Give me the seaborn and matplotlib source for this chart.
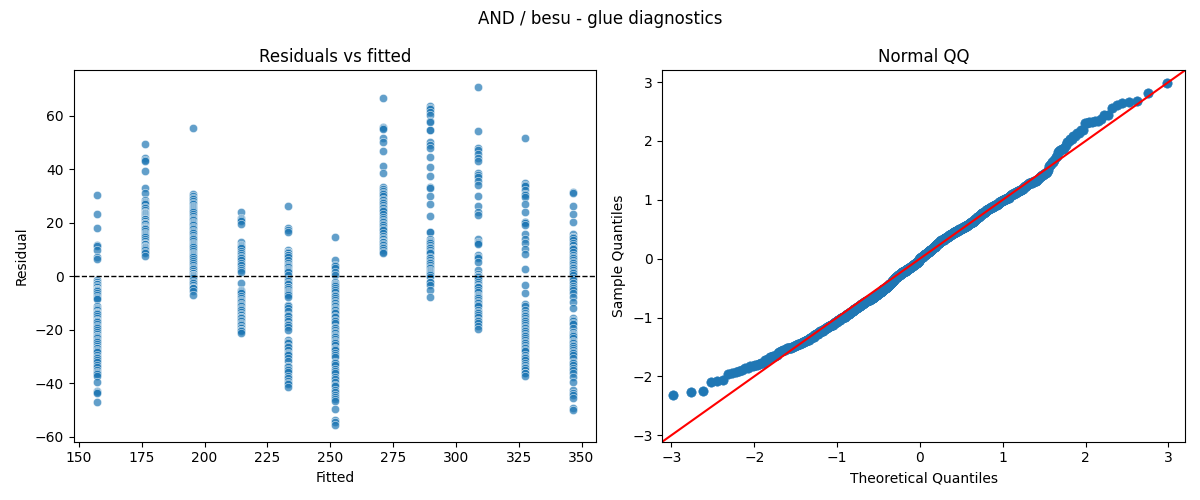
import statistics

import matplotlib
matplotlib.use("Agg")
import matplotlib.pyplot as plt
import numpy as np
import pandas as pd
import seaborn as sns


# fitted value of each group (x positions of the residual columns)
fitted_levels = [157.3, 176.3, 195.2, 214.3, 233.1, 252.0, 270.9, 289.8, 308.7, 327.5, 346.4]

# residuals, one list per fitted level
resid_157 = [30.3, 23.2, 17.9, 11.7, 11.3, 9.7, 7.3, 6.6,
             -1.4, -2.1, -2.8, -3.0, -3.5, -3.9, -4.6, -4.9, -5.1, -5.3, -5.6, -6.2, -7.0,
             -7.9, -8.2, -8.6, -11.2, -11.9, -12.2, -12.6, -13.4, -13.6, -13.8, -14.2,
             -14.9, -15.6, -16.3, -16.6, -16.9, -17.1, -17.8, -18.6, -19.0, -19.4, -20.1,
             -20.9, -21.6, -22.3, -22.5, -22.7, -23.1, -23.8, -24.0, -24.4, -25.2, -26.0,
             -26.7, -26.9, -27.5, -27.8, -28.3, -29.4, -30.1, -30.6, -31.3, -32.0, -33.2,
             -33.8, -34.9, -35.6, -36.3, -36.5, -37.2, -39.6, -42.8, -43.1, -43.7, -46.8]
resid_176 = [49.3, 44.1, 43.5, 43.2, 39.3, 33.1, 31.2, 28.6, 27.8, 27.5, 27.1, 26.0,
             25.6, 24.8, 24.1, 23.8, 23.5, 23.2, 22.9, 22.6, 22.3, 21.8, 21.5, 21.2, 20.6,
             20.0, 19.8, 19.4, 18.7, 18.4, 18.1, 17.9, 17.5, 16.9, 16.3, 15.7, 15.5, 15.2,
             14.6, 13.9, 13.3, 12.6, 12.2, 11.9, 11.3, 11.0, 10.9, 10.4, 10.2, 9.8, 9.2,
             8.6, 7.6]
resid_195 = [55.3, 30.7, 29.8, 29.3, 28.9, 28.1, 27.2, 26.9, 26.4, 25.7, 25.5, 25.3,
             24.6, 24.2, 23.9, 23.1, 22.4, 21.6, 21.2, 20.9, 20.1, 19.8, 19.6, 19.2, 18.4,
             18.0, 17.6, 16.9, 16.5, 16.1, 15.3, 14.6, 14.2, 13.8, 13.1, 12.3, 12.0, 11.6,
             11.2, 10.8, 10.1, 9.3, 8.6, 8.2, 7.8, 7.4, 7.2, 6.5, 5.7, 5.0, 4.2, 3.5, 3.0,
             2.8, 2.0, 1.3, 1.1, 0.6, 0.3, 0.1, -0.1, -0.6, -1.4, -2.1, -2.5, -3.2, -3.9,
             -4.3, -4.5, -5.6, -7.0]
resid_214 = [24.0, 21.7, 21.2, 21.0, 20.5, 19.5, 12.9, 11.8, 11.2, 10.9, 10.4, 9.6, 8.5,
             8.0, 7.3, 7.0, 6.1, 5.0, 4.1, 3.2, 2.4, 1.7, -2.6, -5.1, -5.6, -6.0, -6.4,
             -7.3, -8.1, -8.8, -9.2, -9.6, -10.3, -10.7, -11.2, -11.9, -12.3, -12.7, -13.5,
             -14.0, -14.3, -15.1, -15.3, -15.6, -16.4, -16.8, -17.3, -18.0, -18.2, -19.0,
             -19.5, -19.9, -20.2, -20.6, -21.3]
resid_233 = [26.3, 18.1, 17.4, 16.4, 9.7, 9.2, 8.9, 8.6, 8.0, 7.9, 7.3, 6.1, 5.1, 4.2,
             3.9, 3.4, 2.6, 2.3, 2.0, 1.6, 0.5, -1.1, -1.6, -2.4, -3.0, -3.9, -4.2, -4.8,
             -5.4, -5.8, -6.1, -6.5, -7.0, -7.6, -10.7, -11.1, -12.0, -13.0, -14.3, -15.0,
             -16.0, -16.6, -17.8, -18.3, -18.8, -20.2, -23.8, -24.5, -25.0, -26.0, -26.3,
             -27.7, -28.5, -29.0, -29.4, -30.6, -31.8, -33.4, -33.7, -34.0, -34.6, -35.2,
             -35.9, -37.1, -38.0, -39.0, -39.8, -40.1, -41.2]
resid_252 = [14.6, 6.1, 4.3, 4.0, 3.0, 1.7, 0.5, -2.0, -2.8, -3.2, -3.6, -4.4, -5.1,
             -5.9, -6.9, -7.5, -8.2, -8.8, -9.5, -10.1, -10.6, -11.3, -11.9, -12.2, -12.6,
             -13.2, -13.8, -14.7, -15.4, -16.3, -16.9, -17.6, -18.8, -19.4, -20.1, -20.7,
             -21.3, -21.9, -22.3, -22.8, -23.5, -24.0, -24.4, -25.1, -25.7, -26.9, -27.0,
             -27.6, -28.8, -29.5, -30.3, -31.9, -32.5, -33.1, -34.8, -35.4, -36.3, -37.6,
             -38.3, -39.4, -40.6, -41.1, -42.5, -43.4, -44.3, -45.2, -46.0, -46.5, -49.7,
             -53.7, -54.3, -55.5]
resid_271 = [66.5, 55.9, 55.3, 55.0, 51.6, 50.3, 46.8, 41.2, 38.5, 33.5, 32.6, 31.8,
             31.2, 30.9, 30.0, 29.0, 28.4, 27.8, 27.2, 26.7, 25.9, 25.5, 24.8, 24.3, 23.1,
             22.0, 21.4, 20.8, 20.2, 19.6, 19.0, 18.4, 17.8, 17.2, 16.1, 15.0, 14.4, 13.9,
             13.3, 12.9, 12.8, 12.2, 11.5, 11.0, 10.6, 9.9, 9.1, 8.8]
resid_290 = [63.4, 62.9, 62.4, 61.5, 60.3, 57.8, 57.5, 54.7, 54.5, 50.3, 49.0, 47.8,
             44.5, 40.7, 37.6, 33.3, 33.0, 30.0, 26.9, 22.5, 16.7, 16.4, 14.0, 13.3, 12.8,
             12.3, 11.6, 11.0, 10.4, 9.8, 9.2, 8.5, 7.3, 6.7, 6.1, 5.5, 4.8, 4.2, 3.6,
             3.0, 2.4, 1.9, 1.5, 1.1, 0.9, 0.4, -0.1, -2.0, -2.2, -3.3, -5.1, -7.8]
resid_309 = [70.6, 54.3, 47.8, 47.0, 45.7, 44.1, 42.9, 38.5, 37.8, 37.2, 35.4, 34.1,
             30.0, 26.3, 23.9, 23.0, 13.8, 12.9, 12.5, 12.1, 8.0, 7.2, 6.7, 5.5, 2.4, 1.0,
             0.2, 0.0, -0.3, -1.1, -2.0, -3.0, -3.7, -3.9, -4.1, -5.2, -5.8, -7.1, -7.3,
             -7.6, -8.2, -8.8, -9.6, -10.1, -10.7, -11.3, -12.6, -13.2, -13.8, -14.3,
             -15.1, -16.3, -16.9, -17.6, -18.6, -19.7]
resid_327 = [51.6, 34.7, 34.2, 33.7, 32.2, 30.8, 30.2, 29.5, 27.0, 23.9, 20.4, 20.4,
             20.0, 19.2, 15.8, 14.0, 12.3, 10.0, 8.2, 2.7, -3.2, -6.4, -10.3, -11.0, -12.5,
             -13.7, -14.4, -15.0, -15.6, -16.2, -16.9, -17.5, -18.1, -18.8, -19.4, -20.0,
             -20.6, -21.3, -22.0, -22.5, -23.1, -23.8, -24.4, -25.0, -25.6, -26.3, -26.9,
             -27.5, -28.1, -29.4, -30.0, -30.6, -31.3, -32.5, -33.1, -33.8, -34.4, -35.0,
             -36.0, -36.3, -37.1]
resid_346 = [31.4, 31.0, 26.3, 23.3, 20.4, 15.8, 14.8, 14.8, 14.3, 13.6, 12.6, 11.7,
             10.5, 10.4, 10.1, 9.0, 8.0, 7.3, 6.7, 6.1, 5.5, 4.9, 4.2, 3.6, 3.0, 2.4, 1.7,
             1.1, 0.5, -0.8, -1.5, -2.6, -3.5, -4.5, -5.0, -6.4, -7.8, -9.5, -12.0, -15.7,
             -16.3, -16.9, -17.5, -18.0, -19.4, -20.7, -21.4, -21.8, -22.5, -23.2, -24.0,
             -24.4, -25.0, -25.7, -26.2, -26.9, -27.5, -28.2, -28.8, -29.5, -30.6, -31.9,
             -32.5, -33.1, -34.4, -35.0, -36.3, -37.5, -39.4, -42.5, -43.7, -44.4, -45.6,
             -49.3, -49.9]

groups = [resid_157, resid_176, resid_195, resid_214, resid_233, resid_252,
          resid_271, resid_290, resid_309, resid_327, resid_346]

df = pd.DataFrame({
    'Fitted': np.concatenate([[f] * len(g) for f, g in zip(fitted_levels, groups)]),
    'Residual': np.concatenate(groups),
})

# normal QQ: standardised residuals against normal quantiles
resid = df['Residual'].to_numpy()
sample_q = np.sort((resid - resid.mean()) / resid.std())
n = len(sample_q)
nd = statistics.NormalDist()
theo_q = np.array([nd.inv_cdf(i / (n + 1)) for i in range(1, n + 1)])

fig, (ax1, ax2) = plt.subplots(1, 2, figsize=(12, 5))
fig.suptitle('AND / besu - glue diagnostics')

sns.scatterplot(x='Fitted', y='Residual', data=df, ax=ax1, alpha=0.7)
ax1.axhline(0, color='black', linestyle='--', linewidth=1)
ax1.set_title('Residuals vs fitted')

sns.scatterplot(x=theo_q, y=sample_q, ax=ax2, s=45, color='#1f77b4',
                edgecolor='#1f77b4', linewidth=0.5)
ax2.axline((0, 0), slope=1, color='red')
ax2.set_xlim(-3.11, 3.2)
ax2.set_ylim(-3.11, 3.2)
ax2.set_title('Normal QQ')
ax2.set_xlabel('Theoretical Quantiles')
ax2.set_ylabel('Sample Quantiles')

plt.tight_layout()
plt.savefig('out.png', dpi=100)
